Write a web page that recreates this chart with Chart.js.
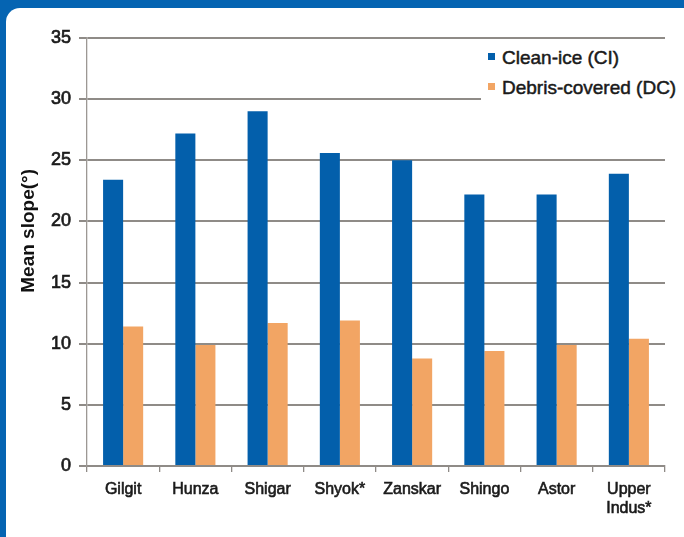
<!DOCTYPE html>
<html>
<head>
<meta charset="utf-8">
<script src="https://cdn.jsdelivr.net/npm/chart.js@4"></script>
<style>
    html, body {
        margin: 0;
        padding: 0;
        width: 684px;
        height: 537px;
        overflow: hidden;
        background: #0564b2;
    }
    #panel {
        position: absolute;
        left: 6px;
        top: 8px;
        right: 0;
        bottom: 0;
        background: #ffffff;
        border-top-left-radius: 14px;
    }
    #wrap {
        position: absolute;
        left: 0;
        top: 0;
        width: 684px;
        height: 537px;
    }
    #legend {
        position: absolute;
        left: 481px;
        top: 43px;
        width: 203px;
        height: 60px;
        background: #ffffff;
        font-family: "Liberation Sans", Arial, sans-serif;
        font-size: 19px;
        color: #1a1a1a;
        -webkit-text-stroke: 0.5px #1a1a1a;
    }
    .legend-item {
        position: absolute;
        left: 7px;
        height: 22px;
        line-height: 22px;
        white-space: nowrap;
    }
    .legend-box {
        display: inline-block;
        width: 7px;
        height: 7px;
        margin-right: 7px;
        vertical-align: 4px;
    }
</style>
</head>
<body>
<div id="panel"></div>
<div id="wrap"><canvas id="chart" width="684" height="537"></canvas></div>
<div id="legend"></div>
<script>
const categories = ["Gilgit", "Hunza", "Shigar", "Shyok*", "Zanskar", "Shingo", "Astor", ["Upper", "Indus*"]];
const clean_ice = [23.4, 27.2, 29.0, 25.6, 25.0, 22.2, 22.2, 23.9];
const debris_covered = [11.4, 9.9, 11.7, 11.9, 8.8, 9.4, 9.9, 10.4];
const series_labels = ["Clean-ice (CI)", "Debris-covered (DC)"];
const y_ticks = [0, 5, 10, 15, 20, 25, 30, 35];

const blue = "#035fab";
const orange = "#f2a564";
const grid_color = "#8f8b87";
const text_color = "#1a1a1a";
const font_family = "'Liberation Sans', Arial, sans-serif";

const chart = new Chart(document.getElementById("chart"), {
    type: "bar",
    data: {
        labels: categories,
        datasets: [{
            label: series_labels[0],
            data: clean_ice,
            backgroundColor: blue
        }, {
            label: series_labels[1],
            data: debris_covered,
            backgroundColor: orange
        }]
    },
    options: {
        responsive: false,
        animation: false,
        layout: {
            padding: {left: 0, top: 38, right: 19, bottom: 0}
        },
        plugins: {
            legend: {display: false},
            tooltip: {enabled: false}
        },
        datasets: {
            bar: {
                barPercentage: 1,
                categoryPercentage: 0.555
            }
        },
        scales: {
            x: {
                afterFit: (scale) => { scale.height = 71; },
                grid: {
                    offset: true,
                    drawOnChartArea: false,
                    color: grid_color,
                    lineWidth: 1.3,
                    tickLength: 6
                },
                border: {color: grid_color, width: 2},
                ticks: {
                    color: text_color,
                    textStrokeColor: text_color,
                    textStrokeWidth: 0.6,
                    padding: 8,
                    maxRotation: 0,
                    autoSkip: false,
                    font: {family: font_family, size: 16, lineHeight: 1.2}
                }
            },
            y: {
                min: 0,
                max: 35,
                afterFit: (scale) => { scale.width = 87; },
                afterBuildTicks: (scale) => {
                    scale.ticks = y_ticks.map(v => ({value: v}));
                },
                grid: {
                    color: grid_color,
                    lineWidth: 2,
                    tickLength: 8
                },
                border: {color: "#9c9894", width: 1.3},
                ticks: {
                    color: text_color,
                    textStrokeColor: text_color,
                    textStrokeWidth: 0.7,
                    padding: 8,
                    font: {family: font_family, size: 18}
                },
                title: {
                    display: true,
                    // leading spaces push the label up a bit, like in the original
                    text: "        Mean slope(°)",
                    color: "#111111",
                    padding: {top: 17, bottom: 0},
                    font: {family: font_family, size: 19, weight: "bold"}
                }
            }
        }
    }
});

// legend kept in html so it can sit over the gridlines
function build_legend(chart) {
    let legend = document.getElementById("legend");
    chart.data.datasets.forEach((ds, i) => {
        let item = document.createElement("div");
        item.classList.add("legend-item");
        item.style.top = (4 + i * 30) + "px";

        let box = document.createElement("span");
        box.classList.add("legend-box");
        box.style.background = ds.backgroundColor;

        item.appendChild(box);
        item.appendChild(document.createTextNode(ds.label));
        legend.appendChild(item);
    });
}

build_legend(chart);
</script>
</body>
</html>
